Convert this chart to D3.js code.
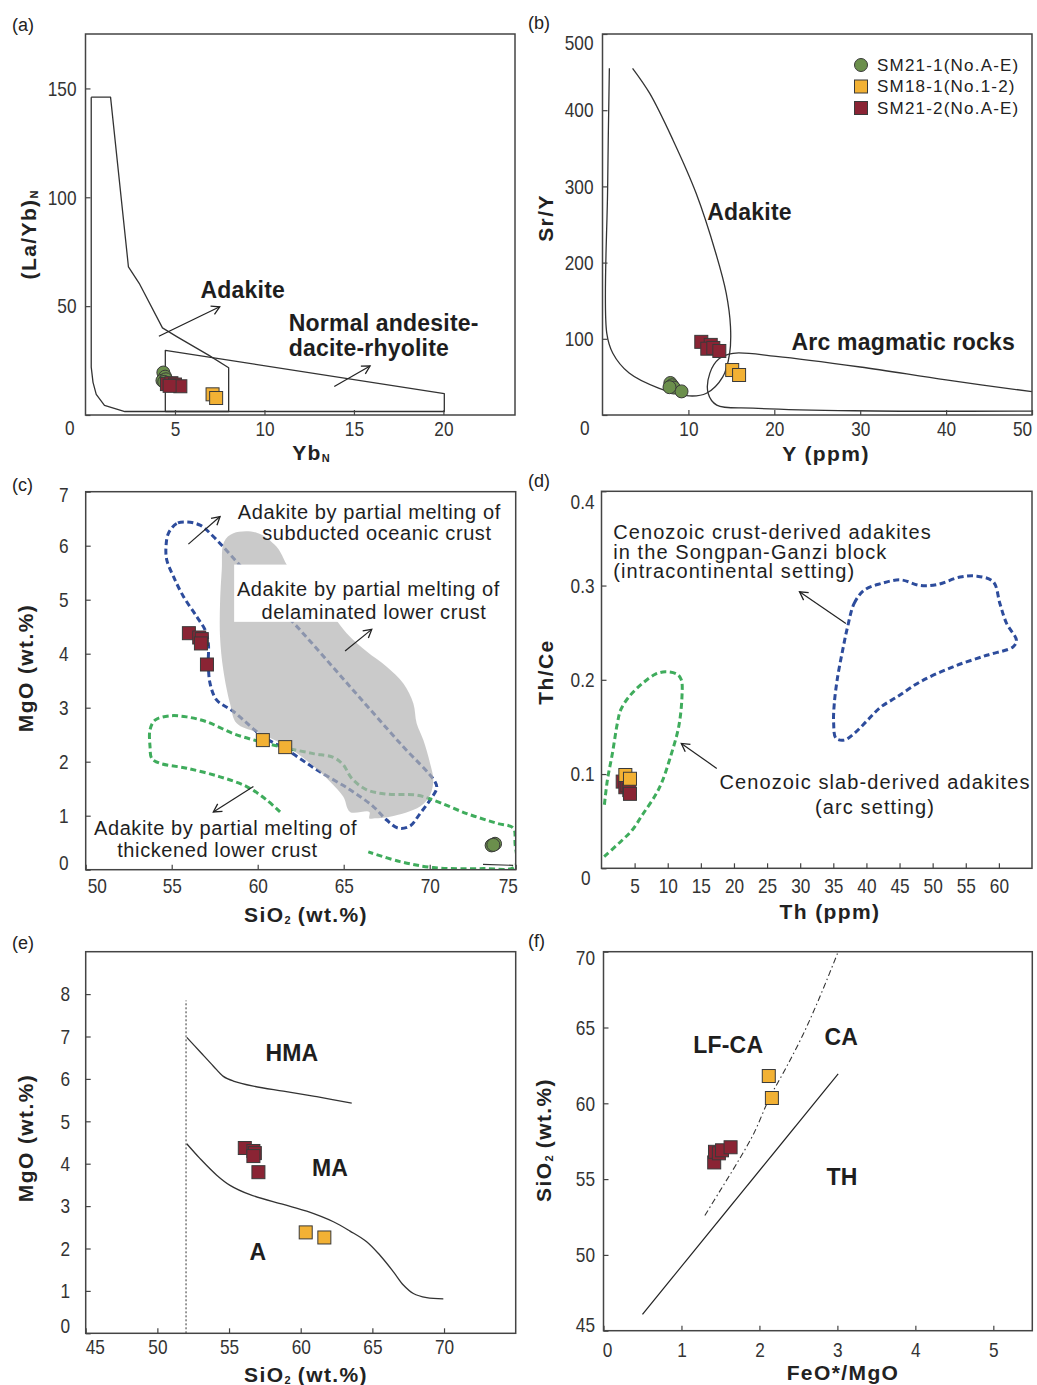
<!DOCTYPE html>
<html>
<head>
<meta charset="utf-8">
<script src="https://cdn.jsdelivr.net/npm/d3@7"></script>
<style>
  body { margin: 0; background: #fff; }
</style>
</head>
<body>
<svg id="fig" width="1037" height="1385"></svg>
<script>
// values (data units of each panel)

// (a) YbN vs (La/Yb)N
const aSM211 = [[4.35,19.5],[4.45,17.6],[4.3,15.8],[4.5,16.4],[4.4,15.2]]
const aSM212 = [[4.55,14.2],[4.8,14.6],[5.0,14.0],[5.3,13.2],[4.7,13.4]]
const aSM181 = [[7.1,9.5],[7.3,7.8]]
const aAdakite = [[0.32,146],[1.4,146],[2.4,68],[3.0,60.5],[4.3,40],[5.1,36],[6.9,27.4],[8.0,21.7],
                  [8.0,1.6],[2.2,1.6],[1.06,4.4],[0.6,9.5],[0.42,15],[0.32,22],[0.32,146]]
const aNormal = [[4.46,1.6],[4.46,29.7],[20.05,9.8],[20.05,1.6],[4.46,1.6]]
const aArrows = [[[4.1,36.2],[7.5,49.7]], [[13.9,13.1],[15.9,22.5]]]
const aLabels = [['Adakite',6.43,57.4],['Normal andesite-',11.36,42.3],['dacite-rhyolite',11.36,30.8]]

// (b) Y vs Sr/Y
const bSM211 = [[7.9,42],[8.1,39],[8.3,36],[9.2,31],[7.8,36.5]]
const bSM212 = [[11.5,96],[12.6,92],[12.2,87],[12.9,88],[13.6,84]]
const bSM181 = [[15.1,59],[15.9,52.5]]
const bAdakite = [[0.8,455],[0.6,300],[0.5,107],[1.2,81],[3.1,55],[6.6,35],[10.1,25],[12.1,28.5],[14,50],
                  [14.8,81],[14.9,116],[14.4,160],[13.2,212],[10.9,291],[8.2,361],[5.5,422],[3.5,455]]
const bArc = [[50,30.6],[40,46],[30,63],[20.2,77],[15.2,81],[13.6,74],[12.5,55],[12.3,28.5],[13.3,13],
              [17.5,9],[29.2,5.6],[50,5]]
const bLabels = [['Adakite',12.2,266],['Arc magmatic rocks',22.0,95.8]]
const legendNames = ['SM21-1(No.A-E)','SM18-1(No.1-2)','SM21-2(No.A-E)']

// (c) SiO2 vs MgO
const cSM211 = [[73.6,0.45],[73.8,0.48],[73.7,0.46]]
const cSM212 = [[56.0,4.38],[56.6,4.3],[56.75,4.27],[56.7,4.19],[57.05,3.8]]
const cSM181 = [[60.3,2.4],[61.6,2.27]]
const cGray = [[58.04,6.07],[58.59,6.23],[59.94,6.24],[61.1,5.98],[61.88,5.58],[62.46,5.55],[62.56,5.36],
               [63.24,5.06],[64.4,4.69],[65.17,4.38],[66.34,4.04],[67.5,3.76],[68.47,3.45],[69.05,3.08],
               [69.24,2.71],[69.63,2.4],[70.02,1.97],[70.21,1.66],[70.02,1.38],[69.44,1.17],[67.69,0.98],
               [66.72,0.95],[66.49,0.95],[66.49,1.07],[65.37,1.07],[64.98,1.35],[64.21,1.63],[63.04,1.97],
               [61.69,2.28],[60.14,2.52],[58.78,2.71],[58.39,3.08],[58.0,3.7],[57.81,4.31],[57.81,4.93],[57.91,5.55]]
const cBlue = [[55.87,6.44],[55.29,6.41],[54.81,6.23],[54.67,5.99],[54.71,5.74],[55.1,5.43],[55.68,5.06],
               [56.45,4.69],[56.94,4.44],[57.13,4.19],[57.13,3.82],[57.23,3.45],[57.62,3.14],[58.59,2.93],
               [60.33,2.46],[61.69,2.22],[63.43,1.85],[65.37,1.48],[66.72,1.17],[67.5,0.92],[68.18,0.77],
               [68.86,0.81],[69.44,1.04],[70.02,1.29],[70.41,1.51],[70.31,1.63],[68.28,2.34],[65.37,3.39],
               [62.46,4.44],[59.75,5.36],[57.42,6.17],[56.65,6.38]]
const cGreen = [[61.3,1.07],[60.52,1.29],[59.36,1.54],[57.81,1.72],[55.87,1.88],[54.32,1.97],[53.84,2.06],
                [53.74,2.28],[53.74,2.59],[54.03,2.77],[54.9,2.85],[55.87,2.83],[57.03,2.74],[58.59,2.52],
                [60.14,2.37],[61.69,2.25],[63.24,2.15],[64.4,2.08],[64.98,1.94],[65.47,1.69],[66.34,1.48],
                [67.5,1.4],[69.24,1.38],[70.21,1.29],[72.15,1.04],[73.9,0.86],[74.86,0.77],[74.96,0.49],
                [74.96,0.06],[73.12,0.02],[70.21,0.04],[68.28,0.15],[66.43,0.33]]
const cSegment = [[73.1,0.1],[74.85,0.08]]
const cArrows = [[[55.97,6.03],[57.81,6.54]], [[65.08,4.05],[66.63,4.45]], [[59.75,1.54],[57.42,1.07]]]
const cLabels = [['Adakite by partial melting of',66.49,6.62],['subducted oceanic crust',66.93,6.23],
                 ['Adakite by partial melting of',66.44,5.19],['delaminated lower crust',66.76,4.78],
                 ['Adakite by partial melting of',58.13,0.78],['thickened lower crust',57.66,0.36]]
const cBox = [[58.63,5.65],[74.22,4.59]]

// (d) Th vs Th/Ce
const dSM212 = [[3.2,0.092],[3.6,0.086],[3.9,0.088],[4.2,0.083],[4.3,0.079]]
const dSM181 = [[3.6,0.099],[4.3,0.095]]
const dGreen = [[0.4,0.0124],[3.15,0.03],[4.65,0.0406],[6.15,0.0565],[8.15,0.0777],[9.15,0.0919],
                [10.4,0.118],[11.65,0.15],[12.15,0.182],[12.05,0.2],[11.4,0.206],[9.65,0.2085],[8.15,0.206],
                [6.15,0.196],[4.15,0.182],[2.9,0.168],[2.4,0.154],[1.65,0.122],[0.9,0.094],[0.4,0.065]]
const dBlue = [[37.15,0.256],[38.15,0.281],[39.65,0.295],[42.15,0.302],[45.15,0.306],[48.15,0.3],
               [50.65,0.301],[54.15,0.309],[56.65,0.31],[59.15,0.304],[60.15,0.281],[61.15,0.26],
               [62.65,0.242],[62.15,0.235],[58.15,0.226],[53.15,0.214],[48.15,0.198],[44.65,0.182],
               [42.15,0.171],[40.15,0.157],[38.15,0.143],[36.65,0.136],[35.4,0.138],[35.05,0.154],
               [35.15,0.175],[35.65,0.203],[36.4,0.231]]
const dArrows = [[[36.9,0.2597],[29.9,0.2933]], [[17.4,0.106],[12.05,0.1325]]]
const dLabelsLeft = [['Cenozoic crust-derived adakites',1.76,0.357],['in the Songpan-Ganzi block',1.76,0.336],
                     ['(intracontinental setting)',1.76,0.315]]
const dLabelsMid = [['Cenozoic slab-derived adakites',41.3,0.0919],['(arc setting)',41.3,0.0654]]

// (e) SiO2 vs MgO
const eSM212 = [[56.1,4.37],[56.7,4.3],[56.8,4.25],[56.7,4.18],[57.05,3.8]]
const eSM181 = [[60.35,2.38],[61.65,2.26]]
const eUpper = [[52.05,6.98],[52.98,6.64],[53.91,6.3],[54.6,6.06],[55.3,5.95],[56.7,5.83],[58.79,5.71],
                [61.12,5.58],[63.56,5.43]]
const eLower = [[52.05,4.47],[52.98,4.12],[54.14,3.73],[55.07,3.49],[56.47,3.27],[58.79,3.04],[60.42,2.88],
                [62.28,2.63],[63.44,2.41],[64.6,2.16],[65.53,1.84],[66.47,1.45],[67.16,1.14],[67.86,0.94],
                [68.79,0.84],[69.95,0.81]]
const eDivider = [[52,0],[52,7.85]]
const eLabels = [['HMA',59.39,6.61],['MA',62.05,3.91],['A',57.02,1.92]]

// (f) FeO*/MgO vs SiO2
const fSM212 = [[1.42,56.1],[1.43,56.8],[1.48,56.7],[1.52,56.9],[1.63,57.1]]
const fSM181 = [[2.12,61.8],[2.16,60.35]]
const fSolid = [[0.5,46.08],[3.01,61.94]]
const fDashDot = [[1.3,52.6],[1.49,54.19],[1.7,55.95],[1.92,57.93],[2.13,60.35],[2.34,62.33],
                  [2.56,64.54],[2.77,66.96],[3.01,70.0]]
const fLabels = [['LF-CA',1.6,63.85],['CA',3.05,64.39],['TH',3.06,55.16]]

// ------------------------------------------------------------------
const FONT = '"Liberation Sans", Arial, Helvetica, sans-serif'
const RED = '#8a2434', ORANGE = '#f2b134', GREEN = '#6b8f4c'
const BLUE_D = '#2d4c9c', GREEN_D = '#3fac5c'

const svg = d3.select('#fig').attr('font-family', FONT)
const defs = svg.append('defs')

defs.append('marker')
    .attr('id', 'arrow')
    .attr('viewBox', '-10 -6 12 12')
    .attr('refX', 0).attr('refY', 0)
    .attr('markerWidth', 12).attr('markerHeight', 12)
    .attr('markerUnits', 'userSpaceOnUse')
    .attr('orient', 'auto')
  .append('path')
    .attr('d', 'M-8,-4.5L0,0L-8,4.5')
    .attr('fill', 'none').attr('stroke', '#222').attr('stroke-width', 1.3)

function nudge(axisG, map){
    if (!map) return
    axisG.selectAll('.tick text')
        .attr('transform', d => map[d] ? `translate(${map[d][0]},${map[d][1]})` : null)
}

function drawPanel(L){
    const x = d3.scaleLinear(L.xd, [L.left, L.right])
    const y = d3.scaleLinear(L.yd, [L.bottom, L.top])
    const id = 'clip' + L.key
    defs.append('clipPath').attr('id', id).append('rect')
        .attr('x', L.left).attr('y', L.top)
        .attr('width', L.right - L.left).attr('height', L.bottom - L.top)

    const g = svg.append('g')
    const plot = g.append('g').attr('clip-path', `url(#${id})`)

    let xAxis = g.append('g')
        .attr('transform', `translate(0,${L.bottom})`)
        .call(d3.axisBottom(x).tickValues(L.xt).tickSize(-5).tickPadding(L.xpad).tickFormat(d => d))
    let yAxis = g.append('g')
        .attr('transform', `translate(${L.left},0)`)
        .call(d3.axisLeft(y).tickValues(L.yt).tickSize(-5).tickPadding(L.ypad).tickFormat(d => d))

    ;[xAxis, yAxis].forEach(a => {
        a.attr('font-size', 21).attr('font-family', FONT)
        a.select('.domain').remove()
        a.selectAll('.tick line').attr('stroke', '#444').attr('stroke-width', 1.2)
        // the figure uses a narrow face for the numbers: squeeze the glyphs
        a.selectAll('.tick text').attr('fill', '#333')
            .each(function(){
                const w = this.getComputedTextLength()
                d3.select(this).attr('textLength', w * 0.82).attr('lengthAdjust', 'spacingAndGlyphs')
            })
    })
    nudge(xAxis, L.xn)
    nudge(yAxis, L.yn)

    g.append('rect')
        .attr('x', L.left).attr('y', L.top)
        .attr('width', L.right - L.left).attr('height', L.bottom - L.top)
        .attr('fill', 'none').attr('stroke', '#444').attr('stroke-width', 1.5)

    // panel tag
    g.append('text').text(L.tag)
        .attr('x', L.tagX).attr('y', L.tagY)
        .attr('dominant-baseline', 'central')
        .attr('font-size', 18).attr('fill', '#222')

    title(g, L.xTitle, L.xTitlePos[0], L.xTitlePos[1], false)
    title(g, L.yTitle, L.yTitlePos[0], L.yTitlePos[1], true)

    return {x, y, g, plot}
}

// title parts: [text, isSubscript]
function title(g, parts, cx, cy, rotate){
    let t = g.append('text')
        .attr('transform', rotate ? `translate(${cx},${cy}) rotate(-90)` : `translate(${cx},${cy})`)
        .attr('text-anchor', 'middle')
        .attr('dominant-baseline', 'central')
        .attr('font-weight', 'bold')
        .attr('font-size', 21)
        .attr('letter-spacing', 1.4)
        .attr('fill', '#222')
    let shifted = false
    parts.forEach(p => {
        let s = t.append('tspan').text(p[0])
        if (p[1]) {
            s.attr('font-size', 11).attr('dy', 6).attr('letter-spacing', 0)
            shifted = true
        } else if (shifted) {
            s.attr('dy', -6)
            shifted = false
        }
    })
}

function curve(P, pts, opts){
    const line = d3.line().x(d => P.x(d[0])).y(d => P.y(d[1])).curve(opts.curve || d3.curveLinear)
    return P.plot.append('path')
        .attr('d', line(pts))
        .attr('fill', opts.fill || 'none')
        .attr('fill-opacity', opts.fillOpacity == null ? 1 : opts.fillOpacity)
        .attr('stroke', opts.stroke || 'none')
        .attr('stroke-width', opts.width || 1.3)
        .attr('stroke-dasharray', opts.dash || null)
        .attr('stroke-linejoin', 'round')
}

function arrows(P, list){
    P.g.selectAll(null).data(list).enter().append('line')
        .attr('x1', d => P.x(d[0][0])).attr('y1', d => P.y(d[0][1]))
        .attr('x2', d => P.x(d[1][0])).attr('y2', d => P.y(d[1][1]))
        .attr('stroke', '#222').attr('stroke-width', 1.2)
        .attr('marker-end', 'url(#arrow)')
}

function labels(P, list, o){
    P.g.selectAll(null).data(list).enter().append('text')
        .text(d => d[0])
        .attr('x', d => P.x(d[1])).attr('y', d => P.y(d[2]))
        .attr('text-anchor', o.anchor || 'start')
        .attr('dominant-baseline', 'central')
        .attr('font-size', o.size)
        .attr('font-weight', o.bold ? 'bold' : 'normal')
        .attr('letter-spacing', o.spacing || 0)
        .attr('fill', '#1e1e1e')
}

function circles(P, pts){
    P.g.selectAll(null).data(pts).enter().append('circle')
        .attr('cx', d => P.x(d[0])).attr('cy', d => P.y(d[1])).attr('r', 6.5)
        .attr('fill', GREEN).attr('stroke', '#3a3a3a').attr('stroke-width', 1)
}

function squares(P, pts, color){
    const s = 13
    P.g.selectAll(null).data(pts).enter().append('rect')
        .attr('x', d => P.x(d[0]) - s / 2).attr('y', d => P.y(d[1]) - s / 2)
        .attr('width', s).attr('height', s)
        .attr('fill', color).attr('stroke', '#3a3a3a').attr('stroke-width', 1)
}

const boldLab = {size: 23, bold: true, spacing: 0.2}

// ---------------- (a) ----------------
let A = drawPanel({key: 'a', tag: '(a)', tagX: 12, tagY: 25,
    left: 85.5, right: 515, top: 34, bottom: 415, xd: [0, 24], yd: [0, 175],
    xt: [5, 10, 15, 20], yt: [0, 50, 100, 150], xpad: 5.6, ypad: 9,
    yn: {0: [-2, 13]},
    xTitle: [['Yb', false], ['N', true]], xTitlePos: [311, 452],
    yTitle: [['(La/Yb)', false], ['N', true]], yTitlePos: [28, 235]})
curve(A, aAdakite, {stroke: '#333'})
curve(A, aNormal, {stroke: '#333'})
arrows(A, aArrows)
labels(A, aLabels, boldLab)
circles(A, aSM211)
squares(A, aSM212, RED)
squares(A, aSM181, ORANGE)

// ---------------- (b) ----------------
let B = drawPanel({key: 'b', tag: '(b)', tagX: 528, tagY: 23,
    left: 602.5, right: 1032, top: 34, bottom: 415, xd: [0, 50], yd: [0, 500],
    xt: [10, 20, 30, 40, 50], yt: [0, 100, 200, 300, 400, 500], xpad: 5.6, ypad: 9,
    xn: {50: [-10, 0]}, yn: {0: [-4, 13], 500: [0, 9]},
    xTitle: [['Y (ppm)', false]], xTitlePos: [826, 453],
    yTitle: [['Sr/Y', false]], yTitlePos: [545, 218]})
curve(B, bAdakite, {stroke: '#333', curve: d3.curveCatmullRom})
curve(B, bArc, {stroke: '#333', curve: d3.curveCatmullRom})
labels(B, bLabels, boldLab)
circles(B, bSM211)
squares(B, bSM212, RED)
squares(B, bSM181, ORANGE)

// legend
const legendY = [65, 86.5, 108]
const legend = B.g.append('g')
legend.append('circle').attr('cx', 861).attr('cy', legendY[0]).attr('r', 6.5)
    .attr('fill', GREEN).attr('stroke', '#3a3a3a')
legend.selectAll(null).data([ORANGE, RED]).enter().append('rect')
    .attr('x', 854.5).attr('y', (d, i) => legendY[i + 1] - 6.5)
    .attr('width', 13).attr('height', 13)
    .attr('fill', d => d).attr('stroke', '#3a3a3a')
legend.selectAll(null).data(legendNames).enter().append('text')
    .text(d => d)
    .attr('x', 877).attr('y', (d, i) => legendY[i])
    .attr('dominant-baseline', 'central')
    .attr('font-size', 17).attr('letter-spacing', 1.2).attr('fill', '#222')

// ---------------- (c) ----------------
let C = drawPanel({key: 'c', tag: '(c)', tagX: 12, tagY: 485,
    left: 85.7, right: 515.7, top: 491.7, bottom: 869.7, xd: [50, 75], yd: [0, 7],
    xt: [50, 55, 60, 65, 70, 75], yt: [0, 1, 2, 3, 4, 5, 6, 7], xpad: 8, ypad: 17,
    xn: {50: [11, 0], 75: [-8, 0]}, yn: {0: [0, -7], 7: [0, 3]},
    xTitle: [['SiO', false], ['2', true], [' (wt.%)', false]], xTitlePos: [306, 914],
    yTitle: [['MgO (wt.%)', false]], yTitlePos: [25, 668]})
curve(C, cBlue, {stroke: BLUE_D, width: 3, dash: '6,3.5', curve: d3.curveCatmullRomClosed})
curve(C, cGreen, {stroke: GREEN_D, width: 3, dash: '6,3.5', curve: d3.curveCatmullRom})
curve(C, cGray, {fill: '#b3b3b3', fillOpacity: 0.7, curve: d3.curveCatmullRomClosed})
curve(C, cSegment, {stroke: '#333', width: 1.2})
C.g.append('rect')
    .attr('x', C.x(cBox[0][0])).attr('y', C.y(cBox[0][1]))
    .attr('width', C.x(cBox[1][0]) - C.x(cBox[0][0]))
    .attr('height', C.y(cBox[1][1]) - C.y(cBox[0][1]))
    .attr('fill', '#fff')
arrows(C, cArrows)
labels(C, cLabels, {size: 20, anchor: 'middle', spacing: 0.6})
circles(C, cSM211)
squares(C, cSM212, RED)
squares(C, cSM181, ORANGE)

// ---------------- (d) ----------------
let D = drawPanel({key: 'd', tag: '(d)', tagX: 528, tagY: 481,
    left: 601.5, right: 1032, top: 491.3, bottom: 868.3, xd: [0, 65], yd: [0, 0.4],
    xt: [5, 10, 15, 20, 25, 30, 35, 40, 45, 50, 55, 60], yt: [0, 0.1, 0.2, 0.3, 0.4], xpad: 9.3, ypad: 7,
    yn: {0: [-4, 9], 0.4: [0, 10]},
    xTitle: [['Th (ppm)', false]], xTitlePos: [830, 911],
    yTitle: [['Th/Ce', false]], yTitlePos: [545, 672]})
curve(D, dGreen, {stroke: GREEN_D, width: 3, dash: '6,3.5', curve: d3.curveCatmullRom})
curve(D, dBlue, {stroke: BLUE_D, width: 3, dash: '6,3.5', curve: d3.curveCatmullRomClosed})
arrows(D, dArrows)
labels(D, dLabelsLeft, {size: 20, spacing: 1.1})
labels(D, dLabelsMid, {size: 20, spacing: 1.1, anchor: 'middle'})
squares(D, dSM212, RED)
squares(D, dSM181, ORANGE)

// ---------------- (e) ----------------
let E = drawPanel({key: 'e', tag: '(e)', tagX: 12, tagY: 943,
    left: 85.7, right: 515.7, top: 951.7, bottom: 1333.3, xd: [45, 75], yd: [0, 9],
    xt: [45, 50, 55, 60, 65, 70], yt: [0, 1, 2, 3, 4, 5, 6, 7, 8], xpad: 6, ypad: 15.5,
    xn: {45: [9, 0]}, yn: {0: [0, -8]},
    xTitle: [['SiO', false], ['2', true], [' (wt.%)', false]], xTitlePos: [306, 1374],
    yTitle: [['MgO (wt.%)', false]], yTitlePos: [25, 1138]})
curve(E, eDivider, {stroke: '#333', width: 1, dash: '2,2'})
curve(E, eUpper, {stroke: '#333', curve: d3.curveCatmullRom})
curve(E, eLower, {stroke: '#333', curve: d3.curveCatmullRom})
labels(E, eLabels, Object.assign({}, boldLab, {anchor: 'middle'}))
squares(E, eSM212, RED)
squares(E, eSM181, ORANGE)

// ---------------- (f) ----------------
let F = drawPanel({key: 'f', tag: '(f)', tagX: 528, tagY: 941,
    left: 603.5, right: 1032.3, top: 951.7, bottom: 1330.7, xd: [0, 5.5], yd: [45, 70],
    xt: [0, 1, 2, 3, 4, 5], yt: [45, 50, 55, 60, 65, 70], xpad: 11, ypad: 8.5,
    xn: {0: [3.5, 0]}, yn: {45: [0, -6], 70: [0, 6]},
    xTitle: [['FeO*/MgO', false]], xTitlePos: [843, 1372],
    yTitle: [['SiO', false], ['2', true], [' (wt.%)', false]], yTitlePos: [543, 1140]})
curve(F, fSolid, {stroke: '#222', width: 1.2})
curve(F, fDashDot, {stroke: '#333', width: 1.1, dash: '6,3,1.5,3', curve: d3.curveCatmullRom})
labels(F, fLabels, Object.assign({}, boldLab, {anchor: 'middle'}))
squares(F, fSM212, RED)
squares(F, fSM181, ORANGE)
</script>
</body>
</html>
